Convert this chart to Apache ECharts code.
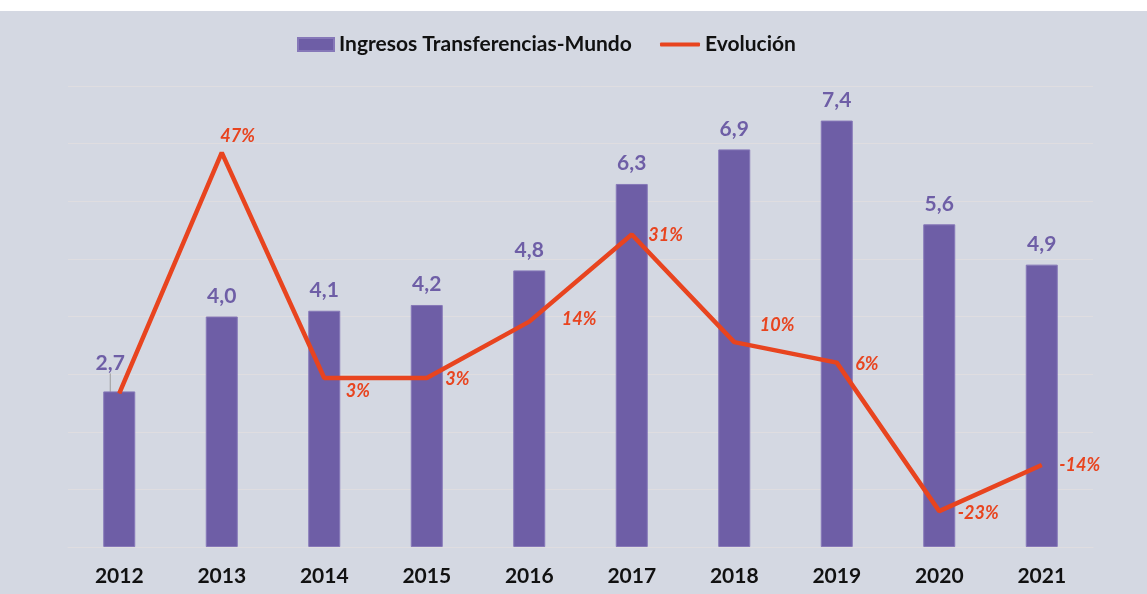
<!DOCTYPE html>
<html>
<head>
<meta charset="utf-8">
<script src="https://cdn.jsdelivr.net/npm/echarts@6/dist/echarts.min.js"></script>
<style>
  html, body { margin: 0; padding: 0; background: #ffffff; }
  #chart { position: absolute; left: 0; top: 11px; width: 1147px; height: 583px; background: #d4d8e2; }
</style>
</head>
<body>
<div id="chart"></div>
<script>
// datos
const years = ['2012', '2013', '2014', '2015', '2016', '2017', '2018', '2019', '2020', '2021']
const ingresos = [2.7, 4.0, 4.1, 4.2, 4.8, 6.3, 6.9, 7.4, 5.6, 4.9]
const evolucion = [0, 47, 3, 3, 14, 31, 10, 6, -23, -14]
// desplazamiento de las etiquetas de evolución (px)
const evoLabelOffset = [null, [-2, -16], [21, 13], [18, 1], [32, -2], [16, 1], [25, -17], [18, 2], [18, 2], [17, 0]]

const FONT = 'Lato, "Open Sans", sans-serif'
const PURPLE = '#6e5ea6'
const RED = '#e8441f'

const chart = echarts.init(document.getElementById('chart'))

const barData = ingresos.map((v, i) =>
  i === 0 ? { value: v, labelLine: { show: true, lineStyle: { color: '#9a9a9a', width: 1 } } } : { value: v }
)

const evoData = evolucion.map((v, i) => {
  const off = evoLabelOffset[i]
  if (!off) return { value: v, label: { show: false } }
  return { value: v, label: { offset: off } }
})

const legendText = { fontFamily: FONT, fontSize: 21, fontWeight: 'bold', color: '#111' }

chart.setOption({
  animation: false,
  textStyle: { fontFamily: FONT },
  legend: [
    {
      top: 18,
      left: 292,
      itemWidth: 36,
      itemHeight: 13,
      textStyle: legendText,
      data: [{ name: 'Ingresos Transferencias-Mundo', icon: 'rect' }],
    },
    {
      top: 18,
      left: 655,
      itemWidth: 40,
      itemHeight: 4,
      textStyle: legendText,
      data: [{ name: 'Evolución', icon: 'roundRect' }],
    },
  ],
  grid: { left: 68, right: 54, top: 75, bottom: 47 },
  xAxis: {
    type: 'category',
    data: years,
    axisTick: { show: false },
    axisLine: { lineStyle: { color: '#dfdde0', width: 1 } },
    axisLabel: { fontFamily: FONT, fontSize: 21, fontWeight: 'bold', color: '#111', margin: 19 },
  },
  yAxis: [
    {
      type: 'value', min: 0, max: 8, interval: 1,
      axisLabel: { show: false }, axisLine: { show: false }, axisTick: { show: false },
      splitLine: { lineStyle: { color: '#dfdde0', width: 1 } },
    },
    {
      type: 'value', min: -30, max: 60, interval: 10,
      axisLabel: { show: false }, axisLine: { show: false }, axisTick: { show: false },
      splitLine: { show: false },
    },
  ],
  series: [
    {
      name: 'Ingresos Transferencias-Mundo',
      type: 'bar',
      data: barData,
      barWidth: 32,
      itemStyle: { color: PURPLE, borderColor: '#8678b8', borderWidth: 1 },
      label: {
        show: true,
        position: 'top',
        distance: 10,
        fontFamily: FONT,
        fontSize: 21,
        fontWeight: 'bold',
        color: PURPLE,
        formatter: p => p.value.toFixed(1).replace('.', ','),
      },
      labelLayout: p => (p.dataIndex === 0 ? { dx: -9, dy: -8 } : {}),
    },
    {
      name: 'Evolución',
      type: 'line',
      yAxisIndex: 1,
      data: evoData,
      symbol: 'circle',
      symbolSize: 1,
      showSymbol: true,
      lineStyle: { color: RED, width: 4.5 },
      itemStyle: { color: RED },
      z: 5,
      label: {
        show: true,
        position: 'right',
        distance: 0,
        fontFamily: FONT,
        fontSize: 18,
        fontWeight: 'bold',
        fontStyle: 'italic',
        color: RED,
        formatter: p => p.value + '%',
      },
    },
  ],
})
</script>
</body>
</html>
